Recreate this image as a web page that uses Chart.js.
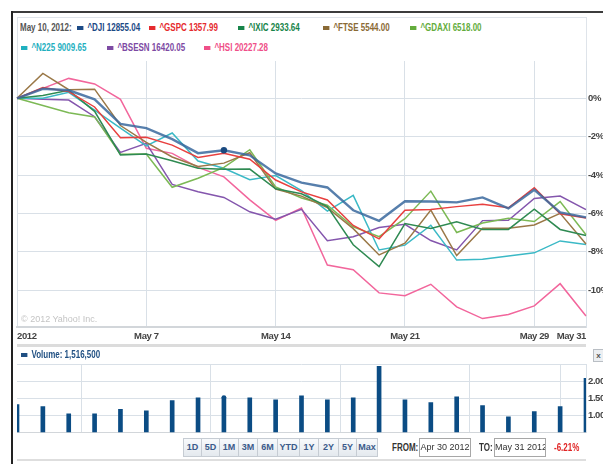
<!DOCTYPE html>
<html lang="en">
<head>
<meta charset="UTF-8" />
<title>Index comparison May 2012</title>
<script src="https://cdn.jsdelivr.net/npm/chart.js"></script>
<style>
    html, body { margin: 0; padding: 0; background: #fff; }
    body {
        width: 603px; height: 464px; position: relative; overflow: hidden;
        font-family: "Liberation Sans", Arial, sans-serif;
        font-weight: bold; font-size: 10px;
    }
    #mainWrap { position: absolute; left: 0; top: 0; width: 603px; height: 345px; }
    #volWrap { position: absolute; left: 0; top: 345px; width: 603px; height: 95px; }
    .abs { position: absolute; }
    .narrow { transform: scaleX(0.8); transform-origin: 0 50%; }
    .frameTop { left: 11px; top: 11px; width: 592px; height: 2px; background: #3c3c3c; }
    .frameLeft { left: 11px; top: 11px; width: 2px; height: 453px; background: #222; }
    .legendBox { left: 17px; top: 17px; width: 568px; height: 43px; border: 1px solid #dfe4ea; border-bottom: none; background: #fff; }
    .item { position: absolute; height: 11px; line-height: 11px; display: flex; align-items: center; white-space: nowrap; }
    .sw { display: inline-block; width: 8px; height: 4px; margin-right: 5px; }
    .sep { left: 17px; top: 344px; width: 569px; height: 3px; background: #dcdcdc; }
    .bottomLine { left: 17px; top: 459px; width: 569px; height: 2px; background: #dedede; }
    .copy { left: 21px; top: 314px; color: #c4c4c4; font-weight: normal; font-size: 9px; }
    .volHead { left: 21px; top: 349px; color: #1f4f82; }
    .closeBtn { left: 593px; top: 349px; width: 9px; height: 11px; border: 1px solid #b9bec4; background: #eceff2; color: #555; font-size: 8px; line-height: 11px; text-align: center; }
    #buttons { left: 183px; top: 438px; height: 19px; display: flex; }
    #buttons span { box-sizing: border-box; height: 19px; line-height: 17px; text-align: center; font-size: 9px;
        border: 1px solid #c6ccd3; border-left: none; background: linear-gradient(#f8fafc, #e4e9ee); color: #3b5a8a; }
    #buttons span:first-child { border-left: 1px solid #c6ccd3; }
    .lbl { color: #333; top: 442px; white-space: nowrap; }
    .inp { box-sizing: border-box; top: 438px; height: 19px; line-height: 17px; border: 1px solid #a7a7a7; background: #fff;
        color: #333; font-weight: normal; font-size: 9px; text-align: center; overflow: hidden; white-space: nowrap; }
    .chg { left: 554px; top: 442px; color: #e02424; }
</style>
</head>
<body>
<div id="mainWrap"><canvas id="mainChart"></canvas></div>
<div id="volWrap"><canvas id="volChart"></canvas></div>

<div class="abs frameTop"></div>
<div class="abs frameLeft"></div>
<div class="abs legendBox"></div>
<div id="legend"></div>
<div class="abs copy">© 2012 Yahoo! Inc.</div>
<div class="abs sep"></div>
<div class="item volHead narrow"><span class="sw" style="background:#1f4f82"></span>Volume: 1,516,500</div>
<div class="abs closeBtn">x</div>
<div class="abs" id="buttons"></div>
<div class="abs lbl narrow" style="left:392px">FROM:</div>
<div class="abs inp" style="left:419px; width:52px">Apr 30 2012</div>
<div class="abs lbl narrow" style="left:479px">TO:</div>
<div class="abs inp" style="left:494px; width:52px">May 31 2012</div>
<div class="abs chg narrow">-6.21%</div>
<div class="abs bottomLine"></div>

<script>
    // trading days shown on the axis
    const dates = ["Apr 30", "May 1", "May 2", "May 3", "May 4", "May 7", "May 8", "May 9", "May 10", "May 11",
        "May 14", "May 15", "May 16", "May 17", "May 18", "May 21", "May 22", "May 23", "May 24", "May 25",
        "May 29", "May 30", "May 31"];
    const tickDays = ["Apr 30", "May 7", "May 14", "May 21", "May 29", "May 31"];
    const tickLabels = ["2012", "May 7", "May 14", "May 21", "May 29", "May 31"];
    const pctTicks = [2, 0, -2, -4, -6, -8, -10];
    const volTicks = [2.5, 2, 1.5, 1, 0.5];
    const hoverDay = "May 10";

    // % change since Apr 30
    const dji = [0, 0.5, 0.42, -0.05, -1.33, -1.55, -2.13, -2.86, -2.71, -2.97, -3.92, -4.4, -4.65, -5.84, -6.39,
        -5.37, -5.38, -5.43, -5.17, -5.74, -4.77, -5.95, -6.21];
    const gspc = [0, 0.57, 0.35, -0.45, -2.05, -2.03, -2.44, -3.08, -2.86, -3.18, -4.26, -4.88, -5.3, -6.63, -7.33,
        -5.84, -5.8, -5.65, -5.52, -5.71, -4.66, -6.02, -6.24];
    const ixic = [0, 0.15, 0.42, -0.68, -2.95, -2.91, -3.26, -3.65, -3.7, -3.69, -4.72, -4.98, -5.65, -7.64, -8.78,
        -6.53, -6.79, -6.44, -6.84, -6.84, -5.78, -6.84, -7.16];
    const ftse = [0, 1.3, 0.45, 0.48, -1.42, -2.3, -3.06, -3.55, -3.38, -2.84, -4.74, -5.1, -5.7, -6.8, -8.17,
        -7.56, -5.83, -8.2, -6.78, -6.78, -6.61, -6.0, -7.6];
    const gdaxi = [0, -0.37, -0.75, -0.97, -2.92, -2.9, -4.64, -4.17, -3.6, -2.68, -4.62, -5.2, -5.58, -6.7, -7.22,
        -6.28, -4.84, -7.0, -6.5, -6.26, -6.43, -5.39, -7.12];
    const n225 = [0, 0, 0.31, -0.62, -1.55, -2.48, -1.81, -3.27, -3.65, -4.25, -4.03, -4.82, -5.88, -5.06, -7.91,
        -7.66, -6.62, -8.44, -8.4, -8.23, -8.06, -7.44, -7.62];
    const bsesn = [0, -0.05, -0.09, -0.96, -2.82, -2.35, -4.49, -4.87, -5.17, -5.92, -6.31, -5.79, -7.43, -7.22, -6.74,
        -6.57, -7.42, -7.91, -6.38, -6.36, -5.22, -5.1, -5.81];
    const hsi = [0, 0.52, 1.04, 0.75, -0.05, -2.61, -2.87, -3.6, -4.1, -5.3, -6.37, -5.72, -8.7, -8.94, -10.15,
        -10.3, -9.7, -10.88, -11.49, -11.28, -10.83, -9.67, -11.36];

    // volume, millions
    const volume = [1.31, 1.25, 1.04, 1.04, 1.17, 1.13, 1.43, 1.51, 1.5165, 1.51, 1.45, 1.57, 1.45, 1.51, 2.43,
        1.45, 1.37, 1.54, 1.28, 0.95, 1.11, 1.25, 2.08];

    const symbols = ["^DJI", "^GSPC", "^IXIC", "^FTSE", "^GDAXI", "^N225", "^BSESN", "^HSI"];
    const closes = ["12855.04", "1357.99", "2933.64", "5544.00", "6518.00", "9009.65", "16420.05", "20227.28"];
    const series = [dji, gspc, ixic, ftse, gdaxi, n225, bsesn, hsi];
    const rangeButtons = ["1D", "5D", "1M", "3M", "6M", "YTD", "1Y", "2Y", "5Y", "Max"];

    // styling / layout
    const textColors = ["#1c4a86", "#e52a2e", "#17844a", "#8a6a35", "#63ac3c", "#1fb0bf", "#7d4aa3", "#ef4f88"];
    const lineColors = ["rgba(58,104,158,0.85)", "#e8403f", "#2f8a52", "#9a7847", "#7cb955", "#3bb9c6", "#8456ad", "#f2669c"];
    const legendLeft = [77, 149, 238, 323, 410, 21, 107, 204];
    const legendTop = [22, 22, 22, 22, 22, 42, 42, 42];
    const buttonWidths = [19, 18, 19, 19, 20, 22, 19, 20, 18, 21];

    const gridColor = "#d9e0e7";
    const tickFont = { family: "Liberation Sans", size: 9.5, weight: "bold" };
    const hoverIdx = dates.indexOf(hoverDay);

    // legend
    const legend = document.getElementById("legend");
    const head = document.createElement("div");
    head.className = "item narrow";
    head.style.left = "20px";
    head.style.top = "22px";
    head.style.color = "#555";
    head.textContent = hoverDay + ", 2012:";
    legend.appendChild(head);
    symbols.forEach((s, i) => {
        const item = document.createElement("div");
        item.className = "item narrow";
        item.style.left = legendLeft[i] + "px";
        item.style.top = legendTop[i] + "px";
        item.style.color = textColors[i];
        item.innerHTML = `<span class="sw" style="background:${textColors[i]}"></span>${s} ${closes[i]}`;
        legend.appendChild(item);
    });

    document.getElementById("buttons").innerHTML = rangeButtons
        .map((b, i) => `<span style="width:${buttonWidths[i]}px">${b}</span>`)
        .join("");

    function dayTicks(scale) {
        scale.ticks = tickDays.map((d) => ({ value: dates.indexOf(d) }));
    }

    // tighter tick text, like the condensed original
    const condensed = {
        id: "condensed",
        beforeDraw(chart) {
            chart.ctx.letterSpacing = "-0.4px";
        },
    };

    new Chart(document.getElementById("mainChart"), {
        type: "line",
        data: {
            labels: dates,
            datasets: series.map((s, i) => ({
                label: symbols[i],
                data: s,
                borderColor: lineColors[i],
                borderWidth: i === 0 ? 2.4 : 1.5,
                pointRadius: i === 0 ? (ctx) => (ctx.dataIndex === hoverIdx ? 3.2 : 0) : 0,
                pointBackgroundColor: "#1a4a80",
                pointBorderWidth: 0,
                tension: 0,
                fill: false,
            })),
        },
        options: {
            responsive: true,
            maintainAspectRatio: false,
            animation: false,
            events: [],
            layout: { padding: { left: 17, top: 60, right: 0, bottom: 0 } },
            plugins: { legend: { display: false }, tooltip: { enabled: false } },
            scales: {
                x: {
                    offset: false,
                    afterBuildTicks: dayTicks,
                    afterFit: (scale) => { scale.height = 18; },
                    grid: { color: gridColor, drawTicks: false },
                    border: { color: "#d2d6da", width: 2 },
                    ticks: {
                        autoSkip: false, maxRotation: 0, align: "inner", padding: 4,
                        color: "#444", font: tickFont,
                        callback: (v, i) => tickLabels[i],
                    },
                },
                y: {
                    position: "right",
                    min: -11.93,
                    max: 2,
                    afterBuildTicks: (scale) => { scale.ticks = pctTicks.map((v) => ({ value: v })); },
                    afterFit: (scale) => { scale.width = 17; },
                    grid: { color: gridColor, drawTicks: false },
                    border: { color: gridColor },
                    ticks: {
                        padding: 2, color: "#444", font: tickFont,
                        callback: (v) => (v === 2 ? "" : v + "%"),
                    },
                },
            },
        },
        plugins: [condensed],
    });

    new Chart(document.getElementById("volChart"), {
        data: {
            labels: dates,
            datasets: [
                {
                    type: "line",
                    data: volume,
                    showLine: false,
                    pointRadius: (ctx) => (ctx.dataIndex === hoverIdx ? 2.4 : 0),
                    pointBackgroundColor: "#0b4c84",
                    pointBorderWidth: 0,
                },
                {
                    type: "bar",
                    data: volume,
                    backgroundColor: "#0b4c84",
                    barThickness: 4,
                },
            ],
        },
        options: {
            responsive: true,
            maintainAspectRatio: false,
            animation: false,
            events: [],
            layout: { padding: { left: 17, top: 19, right: 0, bottom: 0 } },
            plugins: { legend: { display: false }, tooltip: { enabled: false } },
            scales: {
                x: {
                    offset: false,
                    afterBuildTicks: dayTicks,
                    afterFit: (scale) => { scale.height = 5; },
                    grid: { color: gridColor, drawTicks: false },
                    border: { color: "#d2d6da", width: 1 },
                    ticks: { display: false },
                },
                y: {
                    position: "right",
                    min: 0.5,
                    max: 2.5,
                    afterBuildTicks: (scale) => { scale.ticks = volTicks.map((v) => ({ value: v })); },
                    afterFit: (scale) => { scale.width = 17; },
                    grid: { color: gridColor, drawTicks: false },
                    border: { color: gridColor },
                    ticks: {
                        padding: 2, color: "#444", font: tickFont,
                        callback: (v) => (v === 2.5 || v === 0.5 ? "" : v.toFixed(2) + "M"),
                    },
                },
            },
        },
        plugins: [condensed],
    });
</script>
</body>
</html>
